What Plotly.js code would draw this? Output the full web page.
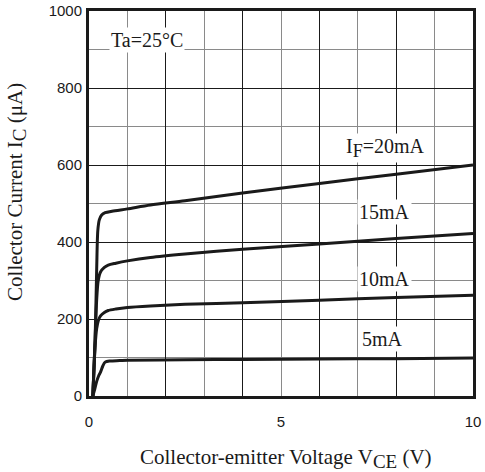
<!DOCTYPE html>
<html><head><meta charset="utf-8">
<script src="https://cdn.plot.ly/plotly-3.0.1.min.js"></script>
<style>html,body{margin:0;padding:0;background:#fff;}#chart{width:485px;height:472px;}</style>
</head><body><div id="chart"></div>
<script>
// Series: collector current (uA) vs collector-emitter voltage (V)
const vce20 = [0.1, 0.16, 0.2, 0.23, 0.27, 0.33, 0.42, 0.6, 1, 1.6, 2.5, 4, 6, 8, 10];
const ic20  = [0, 150, 330, 430, 458, 470, 476, 480, 486, 496, 507, 527, 552, 576, 600];
const vce15 = [0.1, 0.16, 0.2, 0.24, 0.3, 0.4, 0.5, 0.7, 1, 1.6, 2.5, 4, 6, 8, 10];
const ic15  = [0, 150, 250, 300, 322, 334, 340, 345, 351, 360, 369, 381, 395, 409, 422];
const vce10 = [0.1, 0.16, 0.2, 0.24, 0.3, 0.4, 0.5, 0.7, 1, 1.6, 2.5, 4, 6, 8, 10];
const ic10  = [0, 130, 175, 195, 208, 217, 222, 226, 230, 234, 238, 242, 249, 256, 262];
const vce5  = [0.1, 0.15, 0.2, 0.25, 0.3, 0.36, 0.42, 0.55, 0.8, 1, 2.5, 4, 6, 8, 10];
const ic5   = [0, 18, 38, 52, 62, 78, 88, 91, 92, 93, 94, 95, 96, 97, 99];

const curveLabels = ["I<sub><span style=\"font-size:18px\">F</span></sub>=20mA", "15mA", "10mA", "5mA"];
const labelX = [7.73, 7.7, 7.7, 7.65];
const labelY = [644, 478, 304, 148];
const xTickVals = [0, 5, 10];
const yTickVals = [0, 200, 400, 600, 800, 1000];
const xTitle = 'Collector-emitter Voltage V<sub><span style="font-size:19px">CE</span></sub> (V)';
const yTitle = 'Collector Current I<sub><span style="font-size:19px">C</span></sub> (μA)';

const serif = "Liberation Serif, Times New Roman, serif";
const sans = "Liberation Sans, Arial, sans-serif";
const ink = '#1a1a1a';

const series = [[vce20, ic20], [vce15, ic15], [vce10, ic10], [vce5, ic5]];
const traces = series.map(s => ({
  x: s[0], y: s[1], type: 'scatter', mode: 'lines',
  line: {color: ink, width: 3, shape: 'spline', smoothing: 0.8},
  xaxis: 'x', yaxis: 'y', hoverinfo: 'skip', showlegend: false
}));
traces.push({x: [], y: [], xaxis: 'x2', yaxis: 'y', type: 'scatter', showlegend: false});

const annotations = curveLabels.map((t, i) => ({
  x: labelX[i], y: labelY[i], xref: 'x', yref: 'y', text: t, showarrow: false,
  font: {family: serif, size: 20, color: ink}, bgcolor: '#fff', borderpad: 1
}));
annotations.push({
  x: 1.51, y: 925, xref: 'x', yref: 'y', text: 'Ta=25°C', showarrow: false,
  font: {family: serif, size: 20, color: ink}, bgcolor: '#fff', borderpad: 1
});
annotations.push({
  x: -0.1875, y: 0.53, xref: 'paper', yref: 'paper', text: yTitle, textangle: -90,
  showarrow: false, xanchor: 'center', yanchor: 'middle',
  font: {family: serif, size: 21, color: ink}
});
annotations.push({
  x: 0.514, y: -0.163, xref: 'paper', yref: 'paper', text: xTitle,
  showarrow: false, xanchor: 'center', yanchor: 'middle',
  font: {family: serif, size: 21, color: ink}
});

const layout = {
  width: 485, height: 472,
  margin: {l: 89, r: 12, t: 11, b: 76},
  paper_bgcolor: '#fff', plot_bgcolor: '#fff',
  showlegend: false,
  xaxis: {
    range: [0, 10], tick0: 0, dtick: 2, showticklabels: false,
    showgrid: true, gridcolor: ink, gridwidth: 1,
    minor: {dtick: 1, tick0: 0, showgrid: true, gridcolor: '#8a8a8a', gridwidth: 1},
    zeroline: false, showline: true, linecolor: ink, linewidth: 3, mirror: true,
    ticks: '', fixedrange: true
  },
  xaxis2: {
    range: [0, 10], overlaying: 'x', anchor: 'y', side: 'bottom',
    tickmode: 'array', tickvals: xTickVals, ticktext: xTickVals.map(String),
    showgrid: false, zeroline: false, showline: false, ticks: '',
    tickfont: {family: sans, size: 15, color: ink},
    ticklabelstandoff: 15
  },
  yaxis: {
    range: [0, 1000], tickmode: 'array', tickvals: yTickVals, ticktext: yTickVals.map(String),
    showgrid: true, gridcolor: ink, gridwidth: 1,
    minor: {dtick: 100, tick0: 0, showgrid: true, gridcolor: '#8a8a8a', gridwidth: 1},
    zeroline: false, showline: true, linecolor: ink, linewidth: 3, mirror: true,
    ticks: '', ticklabelstandoff: 1,
    tickfont: {family: sans, size: 15, color: ink}
  },
  annotations: annotations
};

Plotly.newPlot('chart', traces, layout, {staticPlot: true, displayModeBar: false});
</script></body></html>
